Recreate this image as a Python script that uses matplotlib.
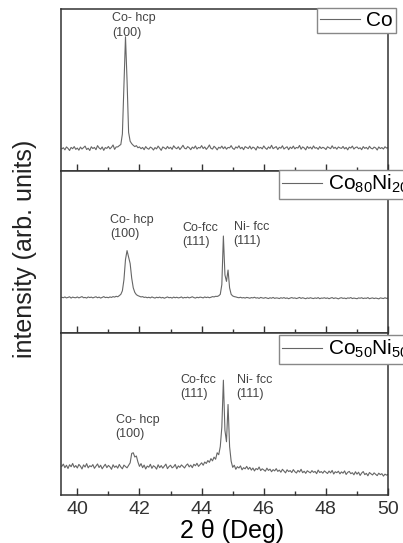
#!/usr/bin/env python3
"""XRD patterns of Co, Co80Ni20 and Co50Ni50 (three stacked panels)"""

import matplotlib.pyplot as plt
from matplotlib.ticker import MultipleLocator
import numpy as np

plt.rcParams['font.family'] = ['Liberation Sans', 'DejaVu Sans']
plt.rcParams['mathtext.default'] = 'regular'

# scan: 39.50 .. 50.00 deg, 0.05 deg step
two_theta = np.round(39.5 + 0.05 * np.arange(211), 2)

# intensities (arb. units)
co = [
    138, 145, 132, 150, 141, 128, 147, 139, 152, 135,
    143, 130, 149, 137, 146, 155, 134, 142, 128, 151,
    140, 147, 133, 158, 144, 136, 150, 129, 146, 141,
    153, 138, 148, 162, 135, 150, 150, 158, 165, 230,
    520, 830, 560, 240, 185, 170, 160, 152, 158, 145,
    150, 139, 147, 133, 152, 141, 136, 149, 143, 131,
    146, 138, 155, 142, 129, 150, 144, 137, 153, 140,
    148, 135, 157, 145, 139, 151, 134, 146, 160, 142,
    138, 152, 145, 133, 149, 141, 156, 137, 147, 143,
    158, 140, 150, 135, 146, 162, 141, 137, 154, 145,
    132, 148, 142, 155, 139, 151, 136, 147, 144, 158,
    141, 135, 150, 143, 157, 139, 148, 133, 152, 146,
    140, 155, 137, 149, 144, 131, 153, 142, 147, 138,
    156, 143, 135, 150, 141, 160, 139, 146, 152, 134,
    148, 142, 157, 137, 145, 151, 133, 149, 140, 155,
    138, 147, 143, 159, 136, 150, 144, 132, 153, 141,
    149, 137, 156, 142, 146, 135, 152, 140, 148, 143,
    134, 151, 145, 139, 157, 141, 148, 136, 150, 144,
    141, 153, 138, 147, 132, 149, 143, 155, 137, 146,
    150, 139, 145, 133, 152, 141, 147, 136, 154, 142,
    138, 149, 144, 131, 150, 140, 146, 137, 151, 143, 145,
]

co80ni20 = [
    222, 219, 224, 218, 221, 225, 217, 223, 220, 219,
    224, 218, 222, 226, 219, 221, 217, 224, 220, 223,
    218, 222, 225, 219, 223, 217, 221, 226, 220, 222,
    219, 224, 221, 226, 223, 228, 225, 232, 240, 262,
    330, 455, 510, 470, 430, 340, 280, 252, 238, 232,
    228, 224, 226, 221, 223, 219, 222, 218, 224, 220,
    217, 222, 219, 223, 218, 221, 216, 220, 224, 219,
    221, 217, 223, 219, 222, 218, 220, 224, 217, 221,
    219, 223, 218, 221, 225, 220, 217, 222, 219, 223,
    221, 218, 224, 220, 223, 219, 222, 226, 224, 228,
    227, 231, 240, 300, 600, 360, 320, 390, 280, 240,
    230, 226, 224, 221, 219, 222, 218, 220, 217, 221,
    219, 216, 220, 218, 222, 217, 219, 215, 221, 218,
    216, 220, 217, 214, 219, 216, 221, 215, 218, 217,
    214, 219, 216, 220, 215, 218, 213, 217, 220, 216,
    218, 214, 217, 221, 215, 219, 216, 213, 218, 215,
    219, 216, 214, 218, 215, 220, 213, 217, 216, 219,
    215, 218, 213, 217, 220, 214, 218, 216, 212, 217,
    219, 215, 217, 213, 218, 216, 220, 214, 217, 215,
    213, 218, 216, 219, 214, 217, 215, 220, 213, 216,
    218, 214, 217, 215, 212, 218, 216, 214, 219, 215, 217,
]

co50ni50 = [
    178, 192, 170, 185, 165, 188, 176, 196, 172, 183,
    168, 190, 179, 162, 187, 174, 195, 169, 182, 176,
    189, 166, 180, 193, 171, 185, 163, 178, 191, 170,
    184, 175, 160, 188, 172, 181, 167, 190, 174, 163,
    186, 177, 169, 185, 200, 258, 262, 236, 242, 205,
    178, 195, 170, 186, 162, 180, 173, 191, 166, 182,
    175, 161, 188, 170, 183, 167, 179, 192, 164, 177,
    185, 169, 176, 190, 163, 181, 172, 187, 178, 168,
    184, 193, 175, 186, 170, 191, 182, 197, 178, 189,
    200, 185, 205, 196, 214, 203, 226, 212, 235, 222,
    262, 250, 300, 420, 710, 400, 330, 560, 300, 210,
    172, 185, 160, 176, 168, 181, 157, 170, 163, 178,
    160, 172, 155, 168, 150, 165, 158, 174, 152, 163,
    156, 148, 167, 153, 161, 145, 158, 150, 164, 147,
    155, 142, 160, 149, 138, 157, 146, 152, 140, 158,
    145, 137, 153, 143, 160, 139, 148, 135, 151, 144,
    138, 152, 141, 147, 133, 155, 140, 146, 136, 150,
    142, 134, 149, 138, 153, 131, 145, 139, 148, 132,
    144, 136, 150, 128, 141, 147, 133, 139, 126, 145,
    130, 142, 122, 137, 146, 127, 135, 120, 140, 132,
    125, 138, 129, 121, 136, 127, 133, 118, 130, 124, 128,
]

series = [co, co80ni20, co50ni50]
labels = ['Co', r'Co$_{80}$Ni$_{20}$', r'Co$_{50}$Ni$_{50}$']

# peak labels per panel: (text, x, y)
peak_notes = [
    [('Co- hcp\n(100)', 41.13, 900)],
    [('Co- hcp\n(100)', 41.06, 656), ('Co-fcc\n(111)', 43.39, 607),
     ('Ni- fcc\n(111)', 45.03, 613)],
    [('Co- hcp\n(100)', 41.23, 419), ('Co-fcc\n(111)', 43.32, 668),
     ('Ni- fcc\n(111)', 45.13, 668)],
]

# legend anchors (figure fraction, upper left)
legend_anchor = [(0.787, 0.985), (0.692, 0.687), (0.692, 0.383)]

line_col = '#666666'
frame_col = '#333333'

fig = plt.figure(figsize=(4.03, 5.43), dpi=100)
gs = fig.add_gridspec(3, 1, left=0.151, right=0.963, top=0.983,
                      bottom=0.088, hspace=0)
axes = [fig.add_subplot(gs[i]) for i in range(3)]

for i, ax in enumerate(axes):
    ax.plot(two_theta, series[i], color=line_col, lw=0.8, label=labels[i])
    ax.set_xlim(39.47, 50.0)
    ax.set_ylim(0, 1000)
    ax.set_yticks([])
    ax.xaxis.set_major_locator(MultipleLocator(2))
    ax.xaxis.set_minor_locator(MultipleLocator(1))
    ax.tick_params(axis='x', which='both', direction='in', colors=frame_col,
                   labelsize=14, pad=4)
    ax.tick_params(axis='x', which='major', length=5, width=1)
    ax.tick_params(axis='x', which='minor', length=3, width=1)
    for sp in ax.spines.values():
        sp.set_color(frame_col)
        sp.set_linewidth(1.1)
    if i < 2:
        ax.tick_params(axis='x', labelbottom=False)

    for txt, x, y in peak_notes[i]:
        ax.text(x, y, txt, fontsize=9, color='#444444', ha='left',
                va='center', linespacing=1.25)

    leg = ax.legend(loc='upper left', bbox_to_anchor=legend_anchor[i],
                    bbox_transform=fig.transFigure, fontsize=15,
                    frameon=True, fancybox=False, framealpha=1,
                    edgecolor='#888888', borderpad=0.15, borderaxespad=0,
                    handlelength=1.9, handletextpad=0.3)
    leg.get_frame().set_linewidth(1.0)

axes[2].set_xlabel('2 θ (Deg)', fontsize=18, labelpad=0)
axes[2].xaxis.set_label_coords(0.523, -0.145)
fig.text(0.062, 0.541, 'intensity (arb. units)', rotation=90, fontsize=18,
         ha='center', va='center', color='#222222')

fig.savefig('out.png', dpi=100)
